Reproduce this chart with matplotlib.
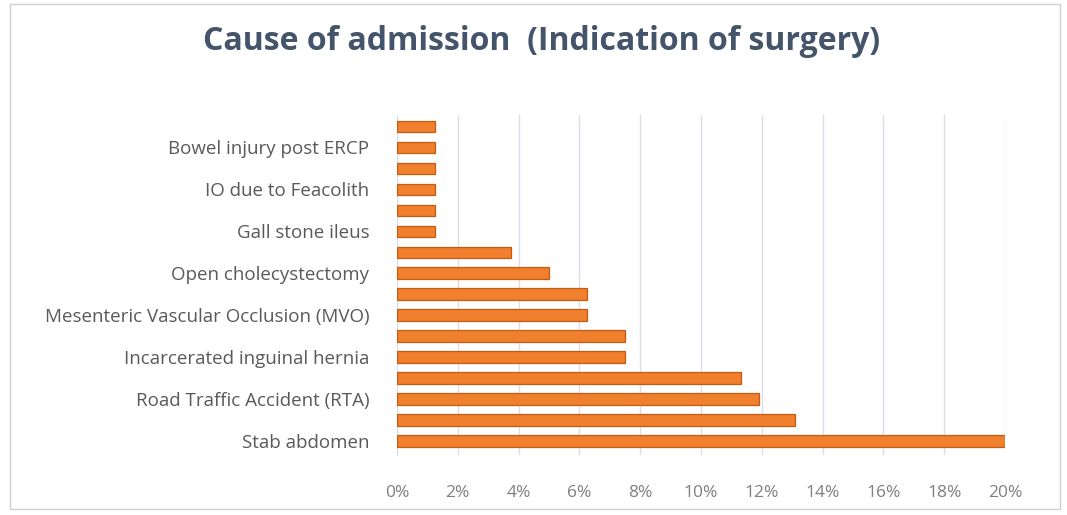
import matplotlib
matplotlib.use("Agg")
import matplotlib.pyplot as plt
from matplotlib.patches import Rectangle
from matplotlib.ticker import PercentFormatter

# categories bottom -> top (Excel only shows every other label)
labels = ["Stab abdomen", "", "Road Traffic Accident (RTA)", "",
          "Incarcerated inguinal hernia", "", "Mesenteric Vascular Occlusion (MVO)", "",
          "Open cholecystectomy", "", "Gall stone ileus", "",
          "IO due to Feacolith", "", "Bowel injury post ERCP", ""]
values = [20.0, 13.1, 11.9, 11.3, 7.5, 7.5, 6.25, 6.25,
          5.0, 3.75, 1.25, 1.25, 1.25, 1.25, 1.25, 1.25]
xticks = [0, 2, 4, 6, 8, 10, 12, 14, 16, 18, 20]

plt.rcParams['font.family'] = ['Open Sans', 'DejaVu Sans']

fig = plt.figure(figsize=(10.67, 5.15), dpi=100)
ax = fig.add_axes([0.372, 0.117, 0.570, 0.660])

pos = list(range(len(values)))
ax.barh(pos, values, height=0.55, color='#F07F2E', edgecolor='#C55A11',
        linewidth=0.9, zorder=3)

ax.set_xlim(0, 20)
ax.set_ylim(-0.65, 15.55)
ax.set_xticks(xticks)
ax.xaxis.set_major_formatter(PercentFormatter(decimals=0))
ax.set_yticks(pos)
ax.set_yticklabels(labels)

ax.grid(axis='x', color='#D9DEE8', linewidth=1, zorder=0)
for s in ['top', 'right', 'bottom']:
    ax.spines[s].set_visible(False)
ax.spines['left'].set_color('#D9DEE8')
ax.tick_params(axis='y', length=0, pad=20, labelsize=13.5, labelcolor='#595959')
ax.tick_params(axis='x', length=0, pad=22, labelsize=12.5, labelcolor='#7F7F7F')

fig.text(0.508, 0.92, "Cause of admission  (Indication of surgery)",
         ha='center', va='center', fontsize=23, fontweight='bold', color='#44546A')

fig.patches.append(Rectangle((0.009, 0.012), 0.984, 0.98, transform=fig.transFigure,
                             fill=False, edgecolor='#D0D0D0', linewidth=1))

fig.savefig("out.png", dpi=100)
